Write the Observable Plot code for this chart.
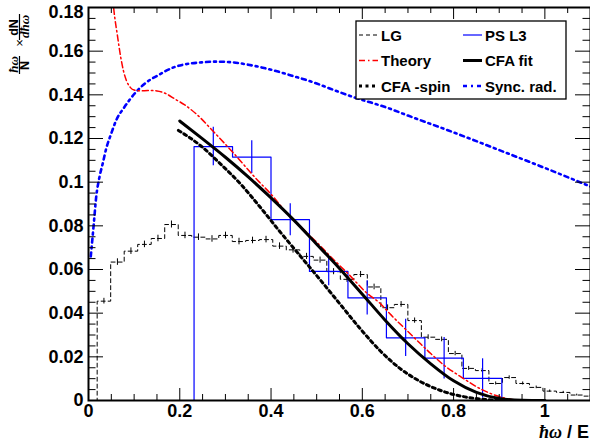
<!DOCTYPE html>
<html><head><meta charset="utf-8">
<script src="https://cdn.jsdelivr.net/npm/d3@7"></script>
<script src="https://cdn.jsdelivr.net/npm/@observablehq/plot@0.6"></script>
<style>
body{margin:0;background:#fff;}
#chart{width:590px;height:448px;overflow:hidden;}
</style>
</head><body><div id="chart"></div>
<script>
// ---------------- data ----------------
const xTickLabels = [0, 0.2, 0.4, 0.6, 0.8, 1];
const yTickLabels = [0, 0.02, 0.04, 0.06, 0.08, 0.1, 0.12, 0.14, 0.16, 0.18];

// LG histogram (dashed black with error bars)
const lgStart = 0.019, lgWidth = 0.0296;
const lgValues = [0.0455, 0.0634, 0.0684, 0.0715, 0.0742, 0.0806, 0.0756, 0.0748, 0.074, 0.0756,
  0.0728, 0.0733, 0.0737, 0.0707, 0.069, 0.066, 0.0643, 0.059, 0.0555, 0.0577,
  0.052, 0.0425, 0.044, 0.0366, 0.029, 0.028, 0.0215, 0.0147, 0.0137, 0.0078,
  0.0105, 0.0078, 0.006, 0.0043, 0.0037, 0.0025, 0.002];
const lgErrors = [0.0013, 0.0015, 0.0015, 0.0015, 0.0015, 0.0016, 0.0015, 0.0015, 0.0015, 0.0015,
  0.0015, 0.0015, 0.0015, 0.0015, 0.0015, 0.0014, 0.0014, 0.0014, 0.0014, 0.0014,
  0.0013, 0.0013, 0.0013, 0.0012, 0.0011, 0.0011, 0.001, 0.0009, 0.0009, 0.0007,
  0.0008, 0.0007, 0.0006, 0.0005, 0.0005, 0.0004, 0.0004];

// PS L3 histogram (blue with error bars)
const psStart = 0.147, psWidth = 0.0843;
const psValues = [0, 0.1163, 0.1115, 0.0828, 0.0591, 0.047, 0.0287, 0.0194, 0.0101, 0, 0, 0];
const psErrors = [0, 0.0088, 0.0075, 0.0073, 0.0065, 0.0078, 0.0085, 0.0095, 0.009, 0, 0, 0];

// Theory (red dash-dot)
const theoryX = [0.05, 0.055, 0.0635, 0.07, 0.0766, 0.083, 0.092, 0.10, 0.115, 0.13, 0.15, 0.17, 0.19, 0.21, 0.24, 0.27, 0.32, 0.37, 0.40, 0.44, 0.47, 0.50, 0.53, 0.57, 0.61, 0.64, 0.66, 0.69, 0.72, 0.75, 0.78, 0.82, 0.86, 0.90, 0.93];
const theoryY = [0.192, 0.180, 0.167, 0.158, 0.151, 0.1466, 0.1433, 0.1422, 0.1418, 0.142, 0.1418, 0.1405, 0.138, 0.1355, 0.1305, 0.124, 0.1128, 0.101, 0.0945, 0.0845, 0.0785, 0.0725, 0.066, 0.0578, 0.0492, 0.0443, 0.0398, 0.0336, 0.0275, 0.0215, 0.016, 0.0103, 0.0052, 0.0018, 0.0003];

// CFA fit (black solid thick)
const cfaX = [0.2, 0.25, 0.30, 0.35, 0.40, 0.45, 0.50, 0.55, 0.60, 0.65, 0.70, 0.75, 0.80, 0.85, 0.90, 0.95, 1.0];
const cfaY = [0.128, 0.1198, 0.1114, 0.1024, 0.0928, 0.0826, 0.0716, 0.0605, 0.0487, 0.0368, 0.026, 0.0168, 0.009, 0.0037, 0.0009, 0.0001, 0];

// CFA -spin (black dotted thick)
const spinX = [0.197, 0.245, 0.289, 0.333, 0.376, 0.42, 0.464, 0.508, 0.551, 0.595, 0.639, 0.683, 0.727, 0.77, 0.814, 0.858, 0.90, 0.93];
const spinY = [0.1237, 0.1168, 0.1084, 0.0992, 0.0886, 0.0772, 0.0662, 0.0552, 0.0442, 0.033, 0.0228, 0.0146, 0.0087, 0.0047, 0.0021, 0.0007, 0.0001, 0];

// Sync. rad. (blue dash-dot)
const syncX = [0.005, 0.0116, 0.0168, 0.024, 0.031, 0.0387, 0.0497, 0.0606, 0.0788, 0.1007, 0.1225, 0.1517, 0.188, 0.21, 0.25, 0.28, 0.31, 0.35, 0.40, 0.45, 0.50, 0.53, 0.573, 0.661, 0.70, 0.80, 0.90, 1.0, 1.1];
const syncY = [0.066, 0.081, 0.0931, 0.1023, 0.1084, 0.1153, 0.1222, 0.1283, 0.1344, 0.1405, 0.145, 0.1489, 0.1527, 0.1539, 0.1549, 0.1552, 0.155, 0.1538, 0.1515, 0.1485, 0.1452, 0.1428, 0.1395, 0.1336, 0.1305, 0.1228, 0.1147, 0.1065, 0.098];

const legendLabels = ["LG", "PS L3", "Theory", "CFA fit", "CFA -spin", "Sync. rad."];

// ---------------- build tables ----------------
function stepPoints(start, width, values) {
  const pts = [{x: 0, y: 0}];
  values.forEach((v, i) => pts.push({x: start + i * width, y: v}));
  pts.push({x: start + values.length * width, y: values[values.length - 1]});
  return pts;
}
const lgSteps = stepPoints(lgStart, lgWidth, lgValues);
const lgBars = lgValues.map((v, i) => ({x: lgStart + (i + 0.5) * lgWidth, lo: v - lgErrors[i], hi: v + lgErrors[i]}));
const psSteps = stepPoints(psStart, psWidth, psValues);
const psBars = psValues.map((v, i) => ({x: psStart + (i + 0.5) * psWidth, lo: v - psErrors[i], hi: v + psErrors[i], e: psErrors[i]})).filter(d => d.e > 0);
const zipXY = (xs, ys) => xs.map((x, i) => ({x, y: ys[i]}));
const theory = zipXY(theoryX, theoryY);
const cfa = zipXY(cfaX, cfaY);
const spin = zipXY(spinX, spinY);
const sync = zipXY(syncX, syncY);

const xMinor = d3.range(0, 1.1001, 0.05).filter(v => Math.abs(v / 0.2 - Math.round(v / 0.2)) > 1e-6);
const yMinor = d3.range(0, 0.18001, 0.005).filter(v => Math.abs(v / 0.02 - Math.round(v / 0.02)) > 1e-6);

const W = 590, H = 448, mL = 88, mR = 0, mT = 7, mB = 48;
const innerH = H - mT - mB, innerW = W - mL - mR;
const fmt = d => d === 0 ? "0" : String(+d.toFixed(2));
const FONT = "'Liberation Sans', Arial, Helvetica, sans-serif";
const SYNC_DASH = "4,4,2,4", THEORY_DASH = "6,3,1.5,3", SPIN_DASH = "3,3.5", LG_DASH = "4,3";

const chart = Plot.plot({
  width: W, height: H,
  marginLeft: mL, marginRight: mR, marginTop: mT, marginBottom: mB,
  style: {fontFamily: FONT, background: "white", overflow: "visible"},
  x: {domain: [0, 1.1], label: null},
  y: {domain: [0, 0.18], label: null},
  marks: [
    // histograms
    Plot.line(lgSteps, {x: "x", y: "y", curve: "step-after", stroke: "black", strokeWidth: 1, strokeDasharray: LG_DASH, clip: true}),
    Plot.ruleX(lgBars, {x: "x", y1: "lo", y2: "hi", stroke: "black", strokeWidth: 1, clip: true}),
    Plot.line(psSteps, {x: "x", y: "y", curve: "step-after", stroke: "#0000ff", strokeWidth: 1.2, clip: true}),
    Plot.ruleX(psBars, {x: "x", y1: "lo", y2: "hi", stroke: "#0000ff", strokeWidth: 1.2, clip: true}),
    // curves
    Plot.line(sync, {x: "x", y: "y", curve: "monotone-x", stroke: "#0000ff", strokeWidth: 2.6, strokeDasharray: SYNC_DASH, clip: true}),
    Plot.line(theory, {x: "x", y: "y", curve: "monotone-x", stroke: "#ff0000", strokeWidth: 1.5, strokeDasharray: THEORY_DASH, clip: true}),
    Plot.line(spin, {x: "x", y: "y", curve: "monotone-x", stroke: "black", strokeWidth: 3, strokeDasharray: SPIN_DASH, clip: true}),
    Plot.line(cfa, {x: "x", y: "y", curve: "monotone-x", stroke: "black", strokeWidth: 3, clip: true}),
    // inward ticks
    Plot.tickX(xTickLabels, {x: d => d, insetTop: innerH - 12, stroke: "black"}),
    Plot.tickX(xMinor, {x: d => d, insetTop: innerH - 6, stroke: "black"}),
    Plot.tickX(xTickLabels, {x: d => d, insetBottom: innerH - 12, stroke: "black"}),
    Plot.tickX(xMinor, {x: d => d, insetBottom: innerH - 6, stroke: "black"}),
    Plot.tickY(yTickLabels, {y: d => d, insetRight: innerW - 15, stroke: "black"}),
    Plot.tickY(yMinor, {y: d => d, insetRight: innerW - 7.5, stroke: "black"}),
    Plot.tickY(yTickLabels, {y: d => d, insetLeft: innerW - 15, stroke: "black"}),
    Plot.tickY(yMinor, {y: d => d, insetLeft: innerW - 7.5, stroke: "black"}),
    Plot.frame({stroke: "black", strokeWidth: 2}),
    // labels
    Plot.axisX(xTickLabels, {anchor: "bottom", tickSize: 0, tickPadding: 4, fontSize: 18, fontWeight: "bold", tickFormat: fmt, label: null}),
    Plot.axisY(yTickLabels.slice(0, -1), {anchor: "left", tickSize: 0, tickPadding: 5, fontSize: 18, fontWeight: "bold", tickFormat: fmt, label: null}),
    Plot.axisY(yTickLabels.slice(-1), {anchor: "left", tickSize: 0, tickPadding: 5, dy: 5, fontSize: 18, fontWeight: "bold", tickFormat: fmt, label: null})
  ]
});
document.getElementById("chart").appendChild(chart);

// ---------------- titles and legend ----------------
const svg = d3.select(chart);
const SERIF = "'Liberation Serif', 'DejaVu Serif', serif";
// y axis title: (ħω / N) × (dN / dħω), rotated
const yt = svg.append("g").attr("fill", "black");
function rot(text, x, y, size, family, weight, style) {
  yt.append("text").attr("transform", `translate(${x},${y}) rotate(-90)`)
    .attr("text-anchor", "middle").attr("font-size", size).attr("font-family", family)
    .attr("font-weight", weight).attr("font-style", style || "normal").text(text);
}
rot("ħω", 17.5, 64.5, 13, SERIF, "bold", "italic");
rot("N", 28.5, 65.5, 12.5, FONT, "bold");
yt.append("line").attr("x1", 19.5).attr("x2", 19.5).attr("y1", 56).attr("y2", 74).attr("stroke", "black").attr("stroke-width", 1.2);
rot("×", 24, 43, 13, FONT, "normal");
rot("dN", 18, 27.5, 12.5, FONT, "bold");
rot("dħω", 29, 26.5, 13, SERIF, "bold", "italic");
yt.append("line").attr("x1", 19.5).attr("x2", 19.5).attr("y1", 14).attr("y2", 40).attr("stroke", "black").attr("stroke-width", 1.2);

// x axis title
const xt = svg.append("text").attr("x", 589).attr("y", 438).attr("text-anchor", "end")
  .attr("font-size", 18).attr("font-family", FONT).attr("font-weight", "bold").attr("fill", "black");
xt.append("tspan").attr("font-family", SERIF).attr("font-style", "italic").attr("font-weight", "bold").text("ħω");
xt.append("tspan").text(" / E");

// legend
const lg = svg.append("g");
lg.append("rect").attr("x", 356).attr("y", 21).attr("width", 210).attr("height", 78)
  .attr("fill", "white").attr("stroke", "black").attr("stroke-width", 1.3);
const legendStyles = [
  {stroke: "black", width: 1, dash: LG_DASH},
  {stroke: "#0000ff", width: 1.2, dash: null},
  {stroke: "#ff0000", width: 1.5, dash: THEORY_DASH},
  {stroke: "black", width: 3, dash: null},
  {stroke: "black", width: 3, dash: SPIN_DASH},
  {stroke: "#0000ff", width: 2.6, dash: SYNC_DASH}
];
legendLabels.forEach((label, i) => {
  const col = i % 2, row = Math.floor(i / 2);
  const y = 35 + row * 25.5;
  const x0 = col === 0 ? 359 : 463;
  const s = legendStyles[i];
  const ln = lg.append("line").attr("x1", x0).attr("x2", x0 + 19).attr("y1", y).attr("y2", y)
    .attr("stroke", s.stroke).attr("stroke-width", s.width);
  if (s.dash) ln.attr("stroke-dasharray", s.dash);
  lg.append("text").attr("x", x0 + 22).attr("y", y + 5.5).attr("text-anchor", "start").attr("font-size", 15)
    .attr("font-family", FONT).attr("font-weight", "bold").attr("fill", "black").text(label);
});
</script>
</body></html>
